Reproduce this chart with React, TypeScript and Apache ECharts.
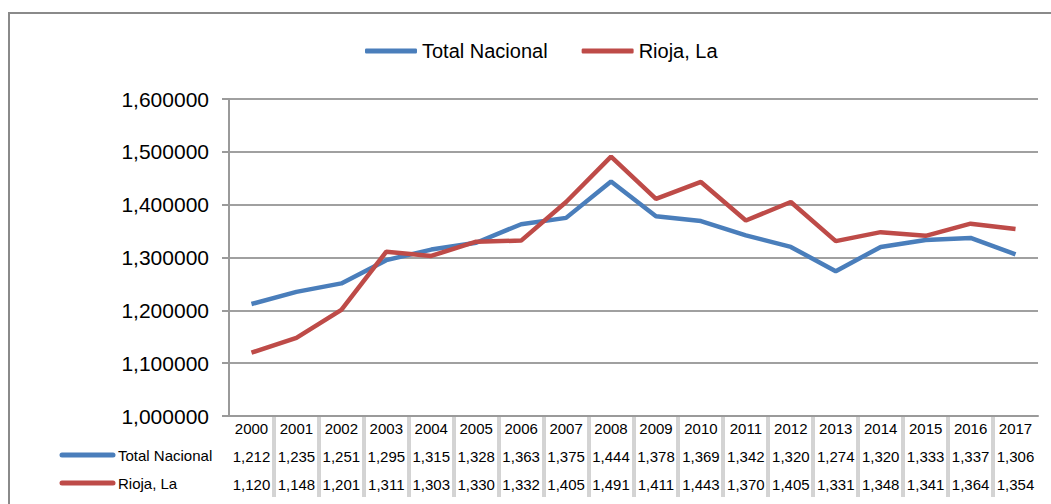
import React, { useEffect, useRef } from "react";
import * as echarts from "echarts";

const years = ["2000","2001","2002","2003","2004","2005","2006","2007","2008","2009","2010","2011","2012","2013","2014","2015","2016","2017"];
const totalNacional = [1.212,1.235,1.251,1.295,1.315,1.328,1.363,1.375,1.444,1.378,1.369,1.342,1.320,1.274,1.320,1.333,1.337,1.306];
const rioja = [1.120,1.148,1.201,1.311,1.303,1.330,1.332,1.405,1.491,1.411,1.443,1.370,1.405,1.331,1.348,1.341,1.364,1.354];
const seriesNames = ["Total Nacional", "Rioja, La"];
const colors = ["#4A7EBB", "#BE4B48"];

const FONT = "'Liberation Sans', Arial, Helvetica, sans-serif";
const fmt3 = (v: number) => v.toFixed(3).replace(".", ",");
const fmt6 = (v: number) => v.toFixed(6).replace(".", ",");

export default function App() {
  const ref = useRef<HTMLDivElement>(null);
  useEffect(() => {
    document.body.style.margin = "0";
    const chart = echarts.init(ref.current!, null, { renderer: "svg" });
    const option: any = {
      animation: false,
      backgroundColor: "#ffffff",
      textStyle: { fontFamily: FONT },
      legend: {
        top: 36,
        left: 360,
        itemWidth: 52,
        itemHeight: 5,
        itemGap: 34,
        icon: "roundRect",
        textStyle: { fontSize: 20, color: "#000", fontFamily: FONT },
        data: seriesNames,
      },
      grid: { left: 229, right: 13, top: 99, bottom: 88, containLabel: false },
      xAxis: {
        type: "category",
        data: years,
        boundaryGap: true,
        axisLine: { lineStyle: { color: "#9a9a9a", width: 2 } },
        axisTick: { show: false },
        axisLabel: {
          interval: 0,
          margin: -2,
          fontSize: 15,
          lineHeight: 28,
          color: "#000",
          fontFamily: FONT,
          formatter: (value: string, index: number) =>
            `${value}\n${fmt3(totalNacional[index])}\n${fmt3(rioja[index])}`,
        },
      },
      yAxis: {
        type: "value",
        min: 1.0,
        max: 1.6,
        interval: 0.1,
        axisLine: { show: true, lineStyle: { color: "#9a9a9a", width: 2 } },
        axisTick: { show: true, length: 7, lineStyle: { color: "#9a9a9a", width: 2 } },
        splitLine: { lineStyle: { color: "#a0a0a0", width: 2 } },
        axisLabel: {
          margin: 20,
          fontSize: 21,
          color: "#000",
          fontFamily: FONT,
          formatter: (v: number) => fmt6(v),
        },
      },
      series: [
        {
          name: seriesNames[0],
          type: "line",
          data: totalNacional,
          showSymbol: false,
          symbol: "none",
          lineStyle: { color: colors[0], width: 4.5 },
          itemStyle: { color: colors[0] },
        },
        {
          name: seriesNames[1],
          type: "line",
          data: rioja,
          showSymbol: false,
          symbol: "none",
          lineStyle: { color: colors[1], width: 4.5 },
          itemStyle: { color: colors[1] },
        },
      ],
    };
    chart.setOption(option);

    // table separators computed from the category axis scale
    const axisY = chart.convertToPixel({ yAxisIndex: 0 }, 1.0) as number;
    const graphics: any[] = [
      {
        type: "rect",
        shape: { x: 9, y: 13, width: 1200, height: 700 },
        style: { fill: "none", stroke: "#8a8a8a", lineWidth: 2 },
        z: 100,
      },
    ];
    for (let i = 1; i < years.length; i++) {
      const a = chart.convertToPixel({ xAxisIndex: 0 }, i - 1) as number;
      const b = chart.convertToPixel({ xAxisIndex: 0 }, i) as number;
      const x = Math.round((a + b) / 2);
      graphics.push({
        type: "line",
        shape: { x1: x - 1, y1: axisY, x2: x - 1, y2: 497 },
        style: { stroke: "#a8a8a8", lineWidth: 1 },
      });
      graphics.push({
        type: "line",
        shape: { x1: x + 1, y1: axisY, x2: x + 1, y2: 497 },
        style: { stroke: "#a8a8a8", lineWidth: 1 },
      });
    }
    const rowYs = [455, 483];
    seriesNames.forEach((name, k) => {
      graphics.push({
        type: "line",
        shape: { x1: 62, y1: rowYs[k], x2: 113, y2: rowYs[k] },
        style: { stroke: colors[k], lineWidth: 5, lineCap: "round" },
      });
      graphics.push({
        type: "text",
        x: 118,
        y: rowYs[k],
        style: {
          text: name,
          fontSize: 15,
          fontFamily: FONT,
          fill: "#000",
          verticalAlign: "middle",
          align: "left",
        },
      });
    });
    chart.setOption({ graphic: graphics });

    return () => chart.dispose();
  }, []);
  return (
    <div
      ref={ref}
      style={{ width: 1051, height: 504, position: "absolute", left: 0, top: 0 }}
    />
  );
}
